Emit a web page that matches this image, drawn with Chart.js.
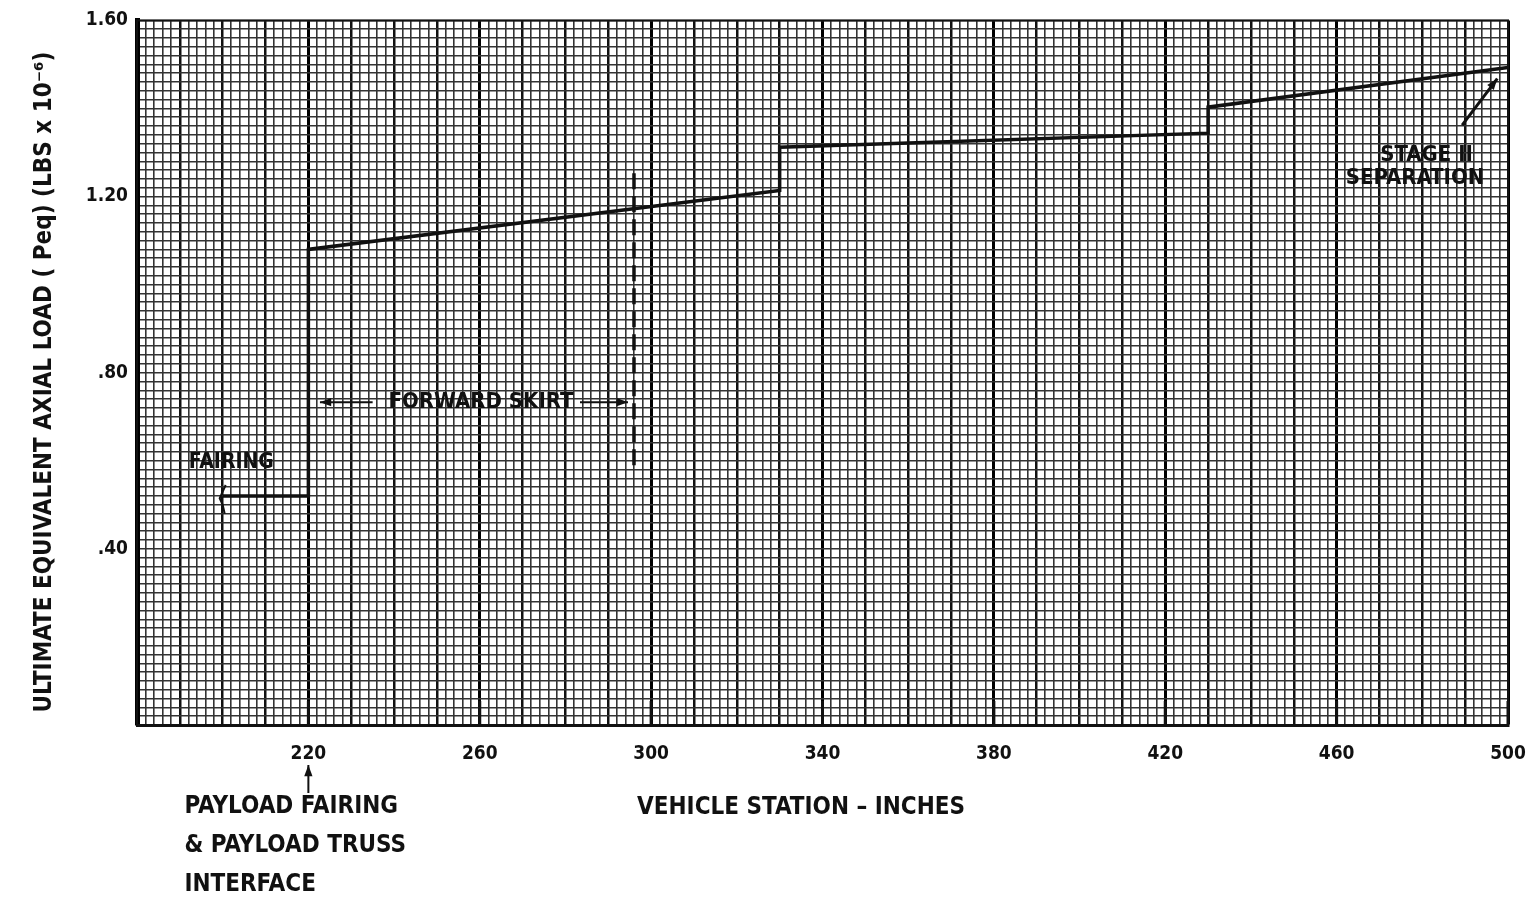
<!DOCTYPE html>
<html>
<head>
<meta charset="utf-8">
<title>Ultimate Equivalent Axial Load</title>
<script src="https://cdn.jsdelivr.net/npm/chart.js@4.4.1/dist/chart.umd.min.js"></script>
<style>
  html, body { margin: 0; padding: 0; background: #fff; }
  #wrap { width: 1533px; height: 900px; position: relative; }
</style>
</head>
<body>
<div id="wrap"><canvas id="load"></canvas></div>
<script>
// vehicle station (inches) vs. ultimate equivalent axial load (x 10^6 lbs)
const station = [200, 220, 220, 330, 330, 430, 430, 500];
const peq = [0.52, 0.52, 1.08, 1.214, 1.312, 1.344, 1.403, 1.493];

// forward skirt boundary (dashed)
const skirtStation = [296, 296];
const skirtLoad = [0.59, 1.26];

const xTicks = [220, 260, 300, 340, 380, 420, 460, 500];
const yTicks = [0.4, 0.8, 1.2, 1.6];
const yTickText = [".40", ".80", "1.20", "1.60"];

const FONT = "'DejaVu Sans Condensed', 'DejaVu Sans', sans-serif";
const INK = "#111";

// in-plot notes, positioned in chart units
const notesPlugin = {
  id: "notes",
  afterDatasetsDraw(chart) {
    const { ctx, scales: { x, y }, chartArea } = chart;
    const px = v => x.getPixelForValue(v);
    const py = v => y.getPixelForValue(v);

    function arrow(x1, y1, x2, y2, w) {
      const a = Math.atan2(y2 - y1, x2 - x1);
      ctx.save();
      ctx.strokeStyle = INK;
      ctx.fillStyle = INK;
      ctx.lineWidth = w || 2;
      ctx.beginPath();
      ctx.moveTo(x1, y1);
      ctx.lineTo(x2, y2);
      ctx.stroke();
      ctx.beginPath();
      ctx.moveTo(x2, y2);
      ctx.lineTo(x2 - 12 * Math.cos(a - 0.35), y2 - 12 * Math.sin(a - 0.35));
      ctx.lineTo(x2 - 12 * Math.cos(a + 0.35), y2 - 12 * Math.sin(a + 0.35));
      ctx.closePath();
      ctx.fill();
      ctx.restore();
    }

    function label(txt, cx, cy, size, align) {
      ctx.save();
      ctx.font = "bold " + size + "px " + FONT;
      ctx.fillStyle = INK;
      ctx.textAlign = align || "center";
      ctx.textBaseline = "middle";
      ctx.fillText(txt, cx, cy);
      ctx.restore();
    }

    // frame top / right
    ctx.save();
    ctx.strokeStyle = INK;
    ctx.lineWidth = 2;
    ctx.strokeRect(chartArea.left, chartArea.top, chartArea.right - chartArea.left, chartArea.bottom - chartArea.top);
    ctx.restore();

    // short heavy ticks above the station axis
    ctx.save();
    ctx.strokeStyle = INK;
    ctx.lineWidth = 3;
    xTicks.forEach(t => {
      ctx.beginPath();
      ctx.moveTo(px(t), chartArea.bottom - 24);
      ctx.lineTo(px(t), chartArea.bottom);
      ctx.stroke();
    });
    ctx.restore();

    // fairing
    label("FAIRING", px(202), py(0.595), 21);
    ctx.save();
    ctx.strokeStyle = INK;
    ctx.lineWidth = 2;
    ctx.beginPath();
    ctx.moveTo(px(200) + 3, py(0.545));
    ctx.lineTo(px(200), py(0.53));
    ctx.lineTo(px(200) - 3, py(0.515));
    ctx.lineTo(px(200), py(0.50));
    ctx.lineTo(px(200) + 2, py(0.48));
    ctx.stroke();
    ctx.restore();

    // forward skirt
    label("FORWARD SKIRT", px(260.3), py(0.733), 22);
    arrow(px(235), py(0.733), px(222.7), py(0.733), 2);
    arrow(px(283.4), py(0.733), px(294.6), py(0.733), 2);

    // stage II separation
    label("STAGE II", px(481), py(1.294), 22);
    label("SEPARATION", px(478.3), py(1.241), 22);
    arrow(px(489.3), py(1.362), px(497.5), py(1.468), 3);

    // payload fairing / truss interface below the axis
    const ix = px(220);
    arrow(ix, chartArea.bottom + 68, ix, chartArea.bottom + 40, 2);
    label("PAYLOAD FAIRING", ix - 124, chartArea.bottom + 82, 24, "left");
    label("& PAYLOAD TRUSS", ix - 124, chartArea.bottom + 121, 24, "left");
    label("INTERFACE", ix - 124, chartArea.bottom + 160, 24, "left");

    // axis titles
    label("VEHICLE STATION \u2013 INCHES", px(335), chartArea.bottom + 83, 24);
    ctx.save();
    ctx.translate(45, 382);
    ctx.rotate(-Math.PI / 2);
    label("ULTIMATE EQUIVALENT AXIAL LOAD ( Peq) (LBS x 10\u207B\u2076)", 0, 0, 24);
    ctx.restore();
  }
};

const near = (a, b) => Math.abs(a - b) < 1e-6;

new Chart(document.getElementById("load"), {
  type: "line",
  data: {
    datasets: [
      {
        label: "Peq",
        data: station.map((s, i) => ({ x: s, y: peq[i] })),
        borderColor: INK,
        borderWidth: 3.5,
        pointRadius: 0,
        tension: 0,
        fill: false
      },
      {
        label: "Forward skirt",
        data: skirtStation.map((s, i) => ({ x: s, y: skirtLoad[i] })),
        borderColor: INK,
        borderWidth: 3.5,
        borderDash: [16, 7],
        pointRadius: 0,
        fill: false
      }
    ]
  },
  options: {
    responsive: true,
    maintainAspectRatio: false,
    animation: false,
    layout: { padding: { top: 20, right: 25, left: 0, bottom: 0 } },
    plugins: {
      legend: { display: false },
      tooltip: { enabled: false }
    },
    scales: {
      x: {
        type: "linear",
        min: 180,
        max: 500,
        afterFit: s => {
          s.height = 175;
          s.paddingLeft = 0;
          s.paddingRight = 0;
        },
        border: { display: true, color: INK, width: 3 },
        grid: {
          drawTicks: false,
          color: c => {
            const v = c.tick.value;
            if (xTicks.some(t => near(t, v))) return "#000";
            return Math.round(v) % 10 === 0 ? "#111" : "#333";
          },
          lineWidth: c => {
            const v = c.tick.value;
            if (xTicks.some(t => near(t, v))) return 3;
            return Math.round(v) % 10 === 0 ? 2.5 : 1.6;
          }
        },
        ticks: {
          stepSize: 2,
          maxTicksLimit: 1000,
          autoSkip: false,
          maxRotation: 0,
          padding: 18,
          color: INK,
          font: { family: FONT, size: 19, weight: "bold" },
          callback: v => (xTicks.some(t => near(t, v)) ? String(Math.round(v)) : "")
        }
      },
      y: {
        min: 0,
        max: 1.6,
        afterFit: s => { s.width = 137; },
        border: { display: true, color: "#000", width: 5 },
        grid: {
          drawTicks: false,
          color: "#333",
          lineWidth: 1.6
        },
        ticks: {
          stepSize: 0.02,
          maxTicksLimit: 1000,
          autoSkip: false,
          padding: 9,
          color: INK,
          font: { family: FONT, size: 19, weight: "bold" },
          callback: v => {
            const i = yTicks.findIndex(t => near(t, v));
            return i >= 0 ? yTickText[i] : "";
          }
        }
      }
    }
  },
  plugins: [notesPlugin]
});
</script>
</body>
</html>
